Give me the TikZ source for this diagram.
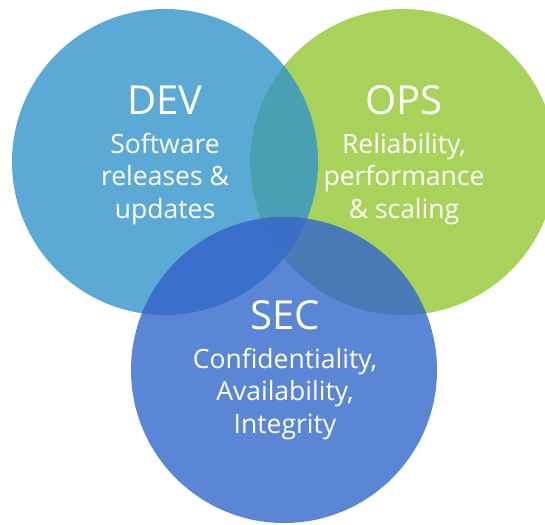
\documentclass[tikz,border=0pt]{standalone}
\usepackage{fontspec}
\setmainfont{Open Sans}
\definecolor{devc}{HTML}{5AAAD5}
\definecolor{opsc}{HTML}{A9D25B}
\definecolor{secc}{HTML}{5B86D5}
\definecolor{devops}{HTML}{4AA0B3}
\definecolor{devsec}{HTML}{3A70CC}
\definecolor{opssec}{HTML}{4A7AB5}
\definecolor{allc}{HTML}{3B6FC6}
\tikzset{
  title/.style={text=white, font=\fontsize{40}{44}\selectfont, inner sep=0pt},
  body/.style={text=white, font=\fontsize{26.5}{32.5}\selectfont, align=center, inner sep=0pt},
}
\begin{document}
\begin{tikzpicture}[x=1pt,y=-1pt]
\useasboundingbox (0,0) rectangle (545,524);
\coordinate (cdev) at (165,162);
\coordinate (cops) at (403,162);
\coordinate (csec) at (284,370);
\def\R{153pt}
\begin{scope}
\clip (0,0) rectangle (545,524);
\fill[devc] (cdev) circle[radius=\R];
\fill[opsc] (cops) circle[radius=\R];
\fill[secc] (csec) circle[radius=\R];
\begin{scope}
\clip (cdev) circle[radius=\R];
\fill[devops] (cops) circle[radius=\R];
\fill[devsec] (csec) circle[radius=\R];
\end{scope}
\begin{scope}
\clip (cops) circle[radius=\R];
\fill[opssec] (csec) circle[radius=\R];
\end{scope}
\begin{scope}
\clip (cdev) circle[radius=\R];
\clip (cops) circle[radius=\R];
\fill[allc] (csec) circle[radius=\R];
\end{scope}
\end{scope}
\node[title] (tdev) at (165,100) {DEV};
\node[title] (tops) at (404,100) {OPS};
\node[title] (tsec) at (285,315) {SEC};
\node[body] (bdev) at (165,179) {Software\\releases \&\\updates};
\node[body] (bops) at (404,179) {Reliability,\\performance\\\& scaling};
\node[body] (bsec) at (285,394) {Confidentiality,\\Availability,\\Integrity};
\end{tikzpicture}
\end{document}
